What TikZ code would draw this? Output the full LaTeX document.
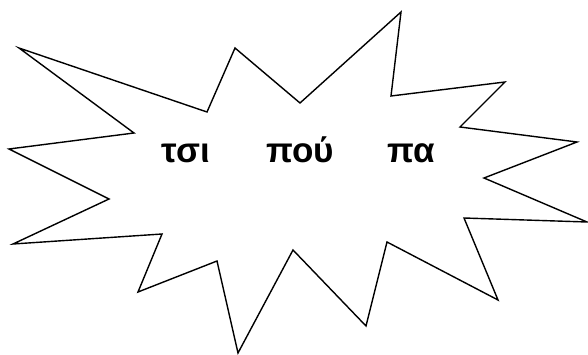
\documentclass[tikz,border=0pt]{standalone}
\usepackage{fontspec}
\setmainfont{Liberation Sans}
\usepackage{tikz}

\begin{document}
\begin{tikzpicture}[x=1pt, y=-1pt, line width=1.4pt, line join=miter]

\useasboundingbox (0,0) rectangle (588,355);

% starburst outline
\draw (19,48) -- (207,112) -- (235,48) -- (300,103) -- (401,12) -- (391,96)
  -- (505,82) -- (460,127) -- (577,142) -- (484,178) -- (587,222) -- (464,218)
  -- (498,300) -- (387,242) -- (366,326) -- (293,250) -- (238,353) -- (217,261)
  -- (138,292) -- (162,234) -- (13,244) -- (109,199) -- (9,149) -- (134,133)
  -- cycle;

\node[anchor=base, font=\fontsize{35}{40}\selectfont\bfseries] (w1) at (186,163) {τσι};
\node[anchor=base, font=\fontsize{35}{40}\selectfont\bfseries] (w2) at (300,163) {πού};
\node[anchor=base, font=\fontsize{35}{40}\selectfont\bfseries] (w3) at (411,163) {πα};

\end{tikzpicture}
\end{document}
